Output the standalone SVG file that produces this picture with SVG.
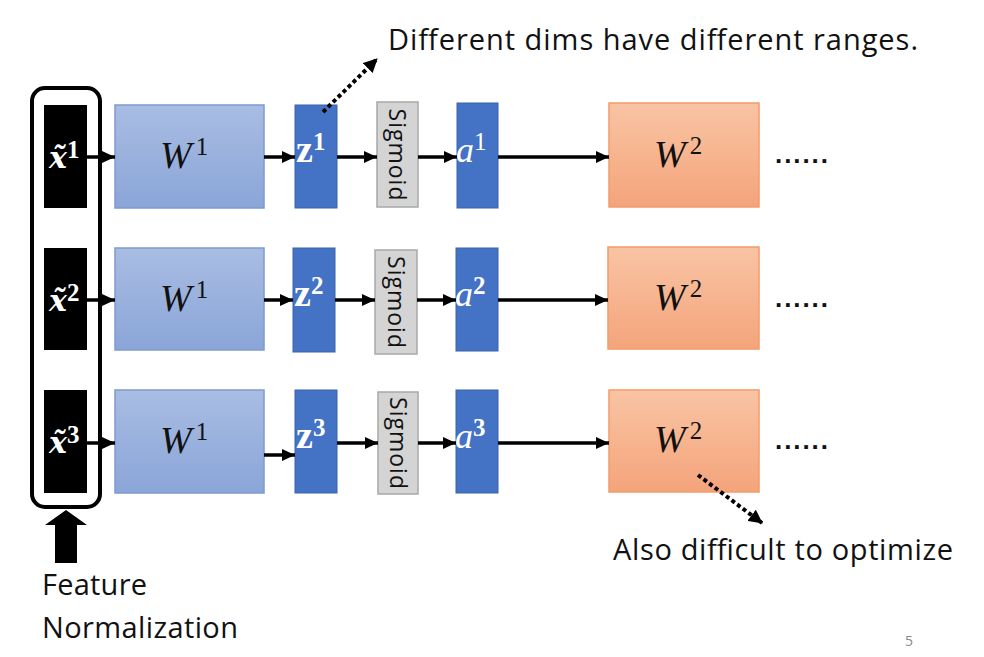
<svg xmlns="http://www.w3.org/2000/svg" width="984" height="657" viewBox="0 0 984 657">
<defs>
<linearGradient id="gw1" x1="0" y1="0" x2="0" y2="1"><stop offset="0" stop-color="#A9BDE3"/><stop offset="1" stop-color="#8AA5D8"/></linearGradient>
<linearGradient id="gw2" x1="0" y1="0" x2="0" y2="1"><stop offset="0" stop-color="#F9C4A4"/><stop offset="1" stop-color="#F4A47B"/></linearGradient>
<marker id="ah" markerUnits="userSpaceOnUse" markerWidth="14" markerHeight="12" refX="13" refY="6" orient="auto"><path d="M0,0 L13,6 L0,12 Z" fill="#000"/></marker>
<marker id="ahd" markerUnits="userSpaceOnUse" markerWidth="14" markerHeight="14" refX="13" refY="7" orient="auto"><path d="M0,0 L14,7 L0,14 Z" fill="#000"/></marker>
</defs>
<style>
.xin{fill:#000}
.w1{fill:url(#gw1);stroke:#7F9BCE;stroke-width:1.5}
.w2{fill:url(#gw2);stroke:#F29C6A;stroke-width:1.5}
.blu{fill:#4472C4;stroke:#3A62AC;stroke-width:1}
.sig{fill:#D4D4D4;stroke:#A8A8A8;stroke-width:1.5}
.mw{font-family:"Liberation Serif","DejaVu Serif",serif;font-style:italic;font-size:38px;fill:#111}
.sup{font-family:"Liberation Serif","DejaVu Serif",serif;font-style:normal;font-size:25px}
.mz{font-family:"Liberation Serif","DejaVu Serif",serif;font-weight:bold;font-size:38px;fill:#fff}
.ma{font-family:"Liberation Serif","DejaVu Serif",serif;font-style:italic;font-size:36px;fill:#fff}
.mx{font-family:"DejaVu Serif","Liberation Serif",serif;font-weight:bold;font-style:italic;font-size:30px;fill:#fff}
.sigt{font-family:"Open Sans","Noto Sans",sans-serif;font-size:23px;fill:#111}
.lbl{font-family:"Open Sans","Noto Sans",sans-serif;font-size:29px;fill:#111}
.dots{font-family:"Liberation Sans",sans-serif;font-weight:bold;font-size:26px;fill:#111}
.conn{stroke:#000;stroke-width:3.5;fill:none;marker-end:url(#ah)}
.dotl{stroke:#000;stroke-width:4;stroke-dasharray:4 3;fill:none;marker-end:url(#ahd)}
</style>
<rect width="984" height="657" fill="#fff"/>

<g id="norm-frame">
<rect x="32" y="88" width="68" height="419" rx="13" fill="none" stroke="#000" stroke-width="4"/>
</g>

<g id="x1"><rect class="xin" x="44" y="105" width="43" height="103"/><text class="mx" x="49" y="168">x̃<tspan class="sup" font-weight="bold" dy="-10">1</tspan></text></g>
<g id="x2"><rect class="xin" x="44" y="248" width="43" height="102"/><text class="mx" x="49" y="311">x̃<tspan class="sup" font-weight="bold" dy="-10">2</tspan></text></g>
<g id="x3"><rect class="xin" x="44" y="390" width="43" height="103"/><text class="mx" x="49" y="453">x̃<tspan class="sup" font-weight="bold" dy="-10">3</tspan></text></g>

<g id="W1a"><rect class="w1" x="115" y="105" width="149" height="103"/><text class="mw" x="160" y="168">W<tspan class="sup" dy="-13" dx="4">1</tspan></text></g>
<g id="W1b"><rect class="w1" x="115" y="248" width="149" height="102"/><text class="mw" x="160" y="311">W<tspan class="sup" dy="-13" dx="4">1</tspan></text></g>
<g id="W1c"><rect class="w1" x="115" y="390" width="149" height="103"/><text class="mw" x="160" y="453">W<tspan class="sup" dy="-13" dx="4">1</tspan></text></g>

<g id="z1"><rect class="blu" x="295" y="105" width="42" height="103"/><text class="mz" x="296" y="162">z<tspan class="sup" font-weight="bold" dy="-12">1</tspan></text></g>
<g id="z2"><rect class="blu" x="293" y="248" width="42" height="104"/><text class="mz" x="294" y="306">z<tspan class="sup" font-weight="bold" dy="-12">2</tspan></text></g>
<g id="z3"><rect class="blu" x="295" y="390" width="42" height="103"/><text class="mz" x="296" y="448">z<tspan class="sup" font-weight="bold" dy="-12">3</tspan></text></g>

<g id="sig1"><rect class="sig" x="377" y="102" width="41" height="105"/><text class="sigt" transform="translate(389,154.5) rotate(90)" text-anchor="middle" textLength="92">Sigmoid</text></g>
<g id="sig2"><rect class="sig" x="375" y="250" width="42" height="104"/><text class="sigt" transform="translate(388,302) rotate(90)" text-anchor="middle" textLength="92">Sigmoid</text></g>
<g id="sig3"><rect class="sig" x="378" y="392" width="40" height="102"/><text class="sigt" transform="translate(390,443) rotate(90)" text-anchor="middle" textLength="92">Sigmoid</text></g>

<g id="a1"><rect class="blu" x="457" y="103" width="41" height="105"/><text class="ma" x="456" y="162">a<tspan class="sup" dy="-12">1</tspan></text></g>
<g id="a2"><rect class="blu" x="456" y="248" width="42" height="103"/><text class="ma" x="455" y="306">a<tspan class="sup" font-weight="bold" dy="-12">2</tspan></text></g>
<g id="a3"><rect class="blu" x="456" y="390" width="42" height="103"/><text class="ma" x="455" y="448">a<tspan class="sup" font-weight="bold" dy="-12">3</tspan></text></g>

<g id="W2a"><rect class="w2" x="609" y="103" width="150" height="104"/><text class="mw" x="654" y="167">W<tspan class="sup" dy="-13" dx="4">2</tspan></text><text class="dots" x="775" y="163" textLength="53">......</text></g>
<g id="W2b"><rect class="w2" x="608" y="247" width="151" height="102"/><text class="mw" x="654" y="310">W<tspan class="sup" dy="-13" dx="4">2</tspan></text><text class="dots" x="775" y="307" textLength="53">......</text></g>
<g id="W2c"><rect class="w2" x="609" y="390" width="150" height="102"/><text class="mw" x="654" y="452">W<tspan class="sup" dy="-13" dx="4">2</tspan></text><text class="dots" x="775" y="449" textLength="53">......</text></g>

<g id="connectors">
<line class="conn" x1="87" y1="157" x2="115" y2="157"/>
<line class="conn" x1="264" y1="157" x2="295" y2="157"/>
<line class="conn" x1="337" y1="157" x2="377" y2="157"/>
<line class="conn" x1="418" y1="157" x2="457" y2="157"/>
<line class="conn" x1="498" y1="157" x2="609" y2="157"/>
<line class="conn" x1="87" y1="300" x2="115" y2="300"/>
<line class="conn" x1="264" y1="300" x2="293" y2="300"/>
<line class="conn" x1="335" y1="300" x2="375" y2="300"/>
<line class="conn" x1="417" y1="300" x2="456" y2="300"/>
<line class="conn" x1="498" y1="300" x2="608" y2="300"/>
<line class="conn" x1="87" y1="443" x2="115" y2="443"/>
<line class="conn" x1="264" y1="455" x2="295" y2="455"/>
<line class="conn" x1="337" y1="443" x2="378" y2="443"/>
<line class="conn" x1="418" y1="443" x2="456" y2="443"/>
<line class="conn" x1="498" y1="443" x2="609" y2="443"/>
<line class="dotl" x1="323" y1="112" x2="377" y2="59"/>
<line class="dotl" x1="698" y1="475" x2="762" y2="523"/>
<polygon points="66,510 87,525 77,525 77,563 55,563 55,525 45,525" fill="#000"/>
</g>

<g id="labels">
<text class="lbl" x="388" y="50" textLength="530">Different dims have different ranges.</text>
<text class="lbl" x="613" y="560" textLength="340">Also difficult to optimize</text>
<text class="lbl" x="42" y="595" textLength="105">Feature</text>
<text class="lbl" x="42" y="638" textLength="196">Normalization</text>
<text x="905" y="646" font-family="Open Sans,sans-serif" font-size="14" fill="#888">5</text>
</g>
</svg>
